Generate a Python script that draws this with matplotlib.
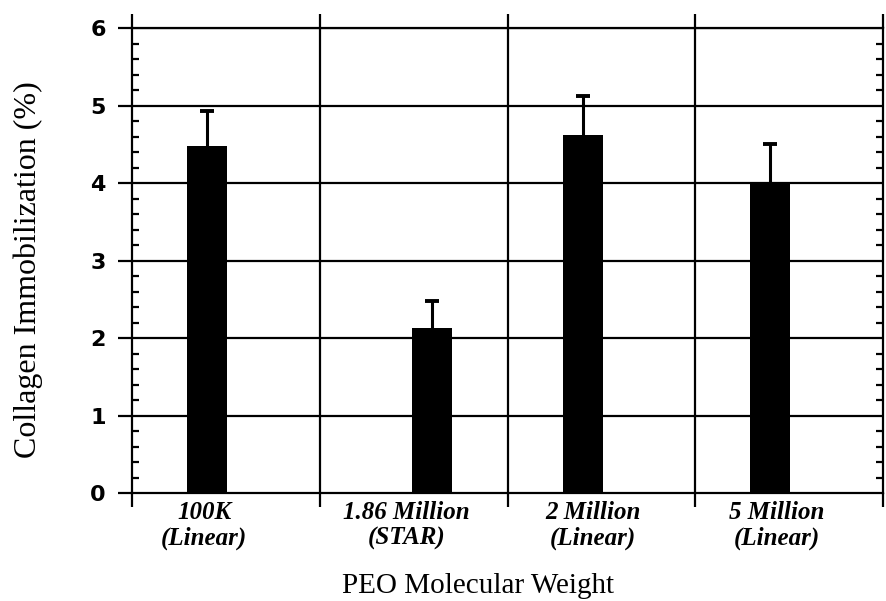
import matplotlib
matplotlib.use("Agg")
import numpy as np
import matplotlib.pyplot as plt
from matplotlib.ticker import MultipleLocator

categories = ["100K\n(Linear)", "1.86 Million\n(STAR)", "2 Million\n(Linear)", "5 Million\n(Linear)"]
values = [4.48, 2.13, 4.62, 4.0]
errors = [0.45, 0.35, 0.50, 0.50]
bar_pos = [0.40, 1.60, 2.40, 3.40]
label_pos = [0.385, 1.46, 2.455, 3.435]
y_ticks = [0, 1, 2, 3, 4, 5, 6]

fig = plt.figure(figsize=(8.86, 6.01), dpi=100)
ax = fig.add_axes([0.149, 0.1797, 0.8477, 0.7737])

lw = 1.6
for y in y_ticks[1:]:
    ax.axhline(y, color="black", lw=lw, zorder=1)
for x in [1, 2, 3]:
    ax.axvline(x, color="black", lw=lw, zorder=1)

ax.bar(bar_pos, values, width=0.213, color="black", zorder=3)
tops = np.array(values) + np.array(errors)
ax.vlines(bar_pos, values, tops, color="black", lw=2.2, zorder=4)
ax.plot(bar_pos, tops, ls="none", marker="_", markersize=10, mew=2.8,
        color="black", zorder=4)

ax.set_xlim(0, 4)
ax.set_ylim(0, 6)
for s in ax.spines.values():
    s.set_linewidth(lw)
    s.set_color("black")

ax.set_xticks([0, 1, 2, 3, 4])
ax.set_xticklabels([])
ax.tick_params(axis="x", which="major", direction="out", length=10, width=lw,
               top=True, bottom=True)
ax.set_xticks(label_pos, minor=True)
ax.set_xticklabels(categories, minor=True, family="Liberation Serif",
                   style="italic", fontweight="bold", fontsize=18, linespacing=1.1)
ax.tick_params(axis="x", which="minor", length=0, pad=6)

ax.set_yticks(y_ticks)
ax.set_yticklabels([str(v) for v in y_ticks], family="DejaVu Sans",
                   fontweight="bold", fontsize=16)
ax.yaxis.set_minor_locator(MultipleLocator(0.2))
ax.tick_params(axis="y", which="major", direction="out", length=10, width=lw, pad=9)
ax.tick_params(axis="y", which="minor", direction="in", length=5, width=1.6,
               left=True, right=True)

ax.set_ylabel("Collagen Immobilization (%)", family="Liberation Serif", fontsize=23)
ax.yaxis.set_label_coords(-0.118, 0.48)
ax.set_xlabel("PEO Molecular Weight", family="Liberation Serif", fontsize=21)
ax.xaxis.set_label_coords(0.46, -0.172)

fig.savefig("out.png", dpi=100)
